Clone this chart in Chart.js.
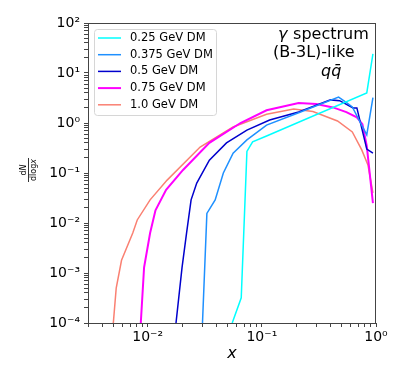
<!DOCTYPE html>
<html>
<head>
<meta charset="utf-8">
<script src="https://cdn.jsdelivr.net/npm/chart.js@4"></script>
<style>
  body { margin: 0; background: #fff; }
  #c { display: block; }
</style>
</head>
<body>
<canvas id="c" width="407" height="380"></canvas>
<script>
// Dados (x, dN/dlogx)
const labels = ["0.25 GeV DM", "0.375 GeV DM", "0.5 GeV DM", "0.75 GeV DM", "1.0 GeV DM"];
const colors = ["#00ffff", "#1e90ff", "#0000cd", "#ff00ff", "#fa8072"];
const widths = [1.5, 1.5, 1.5, 2, 1.5];

const x025 = [0.055, 0.066, 0.074, 0.083, 0.11, 0.83, 0.94];
const y025 = [1e-4, 3.2e-4, 0.27, 0.42, 0.55, 4.0, 24];

const x0375 = [0.0302, 0.033, 0.039, 0.046, 0.056, 0.074, 0.11, 0.21, 0.47, 0.56, 0.62, 0.83, 0.94];
const y0375 = [1e-4, 0.0155, 0.029, 0.1, 0.25, 0.46, 0.91, 1.6, 3.3, 2.5, 2.1, 0.58, 3.2];

const x05 = [0.0177, 0.02, 0.0219, 0.024, 0.0269, 0.0347, 0.049, 0.074, 0.117, 0.21, 0.4, 0.48, 0.63, 0.68, 0.83, 0.94];
const y05 = [1e-4, 1.3e-3, 6.3e-3, 0.029, 0.063, 0.18, 0.4, 0.72, 1.15, 1.66, 2.9, 2.8, 2.0, 2.0, 0.3, 0.25];

const x075 = [0.0087, 0.0093, 0.0105, 0.0117, 0.0145, 0.0204, 0.0347, 0.065, 0.11, 0.21, 0.3, 0.42, 0.55, 0.68, 0.76, 0.83, 0.94];
const y075 = [1e-4, 1.3e-3, 6.3e-3, 0.018, 0.046, 0.115, 0.4, 1.0, 1.8, 2.5, 2.4, 2.05, 1.65, 1.3, 0.95, 0.35, 0.025];

const x10 = [0.005, 0.0053, 0.0059, 0.0074, 0.0081, 0.0105, 0.0148, 0.0288, 0.056, 0.11, 0.19, 0.28, 0.46, 0.62, 0.75, 0.85, 0.94];
const y10 = [1e-4, 5e-4, 1.8e-3, 6.3e-3, 0.0115, 0.029, 0.072, 0.33, 0.83, 1.5, 1.9, 1.7, 1.1, 0.66, 0.29, 0.145, 0.04];

const seriesX = [x025, x0375, x05, x075, x10];
const seriesY = [y025, y0375, y05, y075, y10];

const annotation = ["γ spectrum", "(B-3L)-like"];

// Utilitárias
const SUP = { "-": "⁻", "0": "⁰", "1": "¹", "2": "²", "3": "³", "4": "⁴", "5": "⁵", "6": "⁶", "7": "⁷", "8": "⁸", "9": "⁹" };

function decadeLabel(v) {
  const e = Math.log10(v);
  if (Math.abs(e - Math.round(e)) > 1e-6) return "";
  return "10" + String(Math.round(e)).split("").map((ch) => SUP[ch]).join("");
}

function logTicks(min, max) {
  const ticks = [];
  for (let e = Math.floor(Math.log10(min)); e <= Math.ceil(Math.log10(max)); e++) {
    for (let m = 1; m < 10; m++) {
      const v = m * Math.pow(10, e);
      if (v >= min * 0.999 && v <= max * 1.001) ticks.push({ value: v, major: m === 1 });
    }
  }
  return ticks;
}

const datasets = seriesX.map((xs, i) => ({
  label: labels[i],
  data: xs.map((x, j) => ({ x: x, y: seriesY[i][j] })),
  borderColor: colors[i],
  backgroundColor: colors[i],
  borderWidth: widths[i],
  pointRadius: 0,
  tension: 0,
  fill: false,
}));

// Moldura, legenda e textos
const decorPlugin = {
  id: "decor",
  afterDatasetsDraw(chart) {
    const ctx = chart.ctx;
    const a = chart.chartArea;
    ctx.save();

    // moldura
    ctx.strokeStyle = "#444";
    ctx.lineWidth = 1;
    ctx.strokeRect(a.left + 0.5, a.top + 0.5, a.right - a.left - 1, a.bottom - a.top);

    // legenda
    const lx = 94, ly = 29, lw = 122, lh = 86;
    ctx.fillStyle = "rgba(255,255,255,0.8)";
    ctx.strokeStyle = "#d6d6d6";
    ctx.beginPath();
    ctx.roundRect(lx + 0.5, ly + 0.5, lw, lh, 3);
    ctx.fill();
    ctx.stroke();
    ctx.font = "11.5px 'DejaVu Sans'";
    ctx.textBaseline = "middle";
    ctx.textAlign = "left";
    chart.data.datasets.forEach((ds, i) => {
      const y = 38 + i * 16.7;
      ctx.strokeStyle = ds.borderColor;
      ctx.lineWidth = ds.borderWidth;
      ctx.beginPath();
      ctx.moveTo(98, y);
      ctx.lineTo(121, y);
      ctx.stroke();
      ctx.fillStyle = "#000";
      ctx.fillText(ds.label, 130, y);
    });

    // anotação
    ctx.fillStyle = "#000";
    ctx.font = "italic 16px 'DejaVu Sans'";
    const g = "γ";
    ctx.fillText(g, 278, 35);
    ctx.font = "16px 'DejaVu Sans'";
    ctx.fillText(annotation[0].slice(1), 278 + ctx.measureText(g).width + 0.5, 35);
    ctx.fillText(annotation[1], 273, 53);
    ctx.font = "italic 16px 'DejaVu Sans'";
    ctx.fillText("qq\u0304", 321, 72);

    // título do eixo x
    ctx.textAlign = "center";
    ctx.font = "italic 16px 'DejaVu Sans'";
    ctx.fillText("x", 232, 354);

    // título do eixo y (fração)
    ctx.translate(28.5, 170);
    ctx.rotate(-Math.PI / 2);
    ctx.textAlign = "left";
    ctx.font = "8px 'DejaVu Sans'";
    const dW = ctx.measureText("d").width;
    ctx.font = "italic 8px 'DejaVu Sans'";
    const nW = ctx.measureText("N").width;
    let sx = -(dW + nW) / 2;
    ctx.font = "8px 'DejaVu Sans'";
    ctx.fillText("d", sx, -5);
    ctx.font = "italic 8px 'DejaVu Sans'";
    ctx.fillText("N", sx + dW, -5);
    ctx.font = "8px 'DejaVu Sans'";
    const lgW = ctx.measureText("dlog").width;
    ctx.font = "italic 8px 'DejaVu Sans'";
    const xW = ctx.measureText("x").width;
    sx = -(lgW + xW) / 2;
    ctx.font = "8px 'DejaVu Sans'";
    ctx.fillText("dlog", sx, 5.5);
    ctx.font = "italic 8px 'DejaVu Sans'";
    ctx.fillText("x", sx + lgW, 5.5);
    ctx.strokeStyle = "#000";
    ctx.lineWidth = 0.8;
    ctx.beginPath();
    ctx.moveTo(-(lgW + xW) / 2 - 1, 0);
    ctx.lineTo((lgW + xW) / 2 + 1, 0);
    ctx.stroke();

    ctx.restore();
  },
};

const tickFont = { family: "'DejaVu Sans'", size: 14 };

new Chart(document.getElementById("c"), {
  type: "line",
  data: { datasets: datasets },
  options: {
    responsive: false,
    animation: false,
    devicePixelRatio: 1,
    layout: { padding: { top: 23, right: 31, left: 0, bottom: 0 } },
    plugins: { legend: { display: false }, tooltip: { enabled: false } },
    scales: {
      x: {
        type: "logarithmic",
        min: 0.003,
        max: 1,
        afterBuildTicks: (s) => { s.ticks = logTicks(0.003, 1); },
        afterFit: (s) => { s.height = 57; },
        border: { display: false },
        grid: { drawOnChartArea: false, drawTicks: true, tickLength: 4, color: "#444" },
        ticks: {
          autoSkip: false,
          maxRotation: 0,
          padding: 2,
          color: "#000",
          font: tickFont,
          callback: (v) => decadeLabel(v),
        },
      },
      y: {
        type: "logarithmic",
        min: 1e-4,
        max: 100,
        afterBuildTicks: (s) => { s.ticks = logTicks(1e-4, 100); },
        afterFit: (s) => { s.width = 88; },
        border: { display: false },
        grid: { drawOnChartArea: false, drawTicks: true, tickLength: 4, color: "#444" },
        ticks: {
          autoSkip: false,
          padding: 4,
          color: "#000",
          font: tickFont,
          callback: (v) => decadeLabel(v),
        },
      },
    },
  },
  plugins: [decorPlugin],
});
</script>
</body>
</html>
